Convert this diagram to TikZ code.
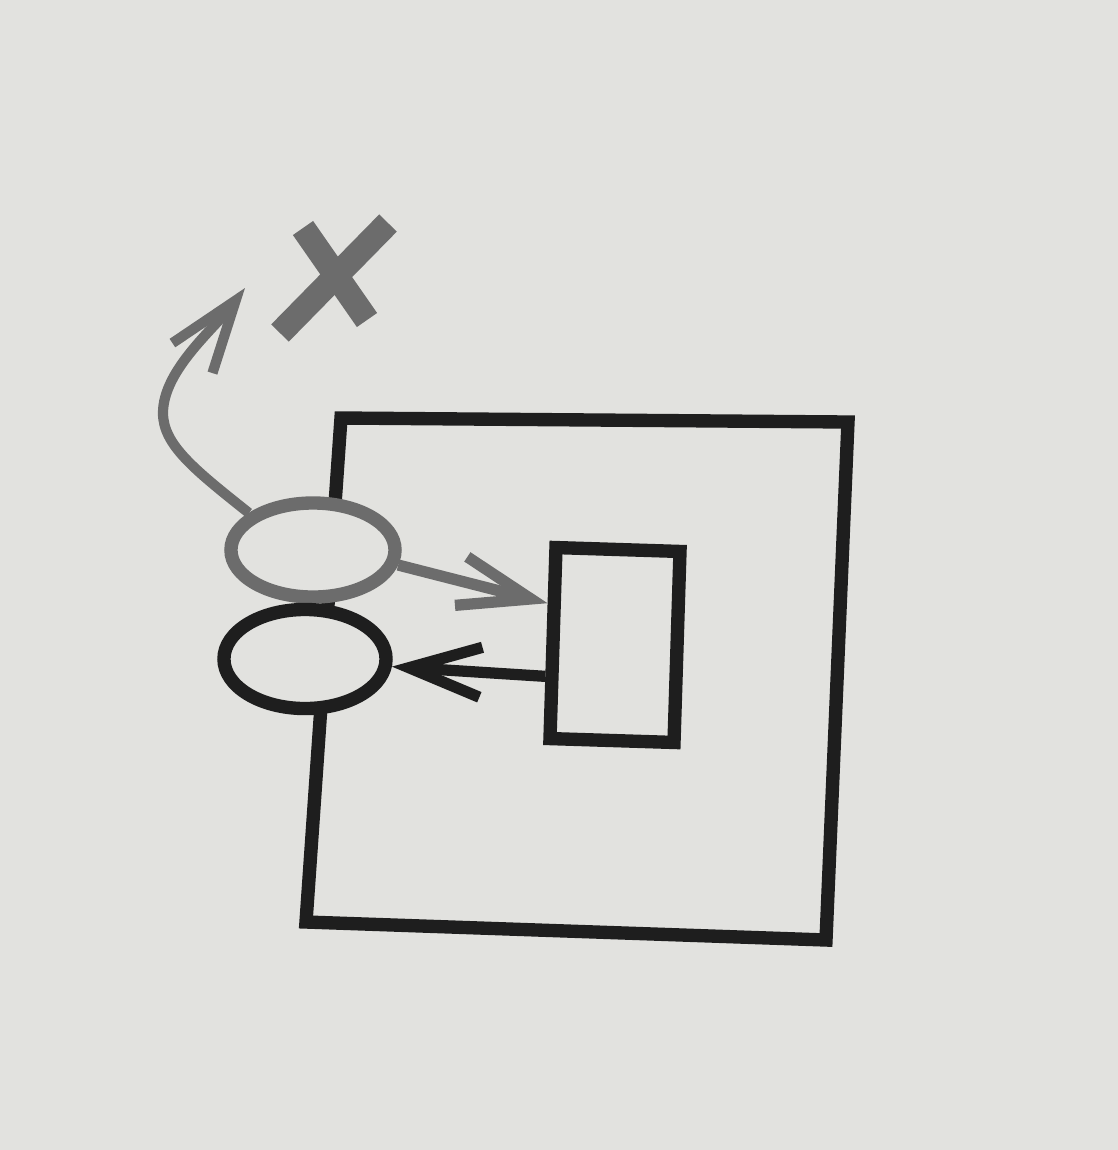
\documentclass[tikz,border=0pt]{standalone}
\usepackage{tikz}
\usetikzlibrary{arrows.meta,shapes.geometric}

\definecolor{paper}{RGB}{226,226,223}
\definecolor{ink}{RGB}{30,30,30}
\definecolor{screen}{RGB}{108,108,108}

\begin{document}
\begin{tikzpicture}[x=0.01cm,y=-0.01cm,>={Straight Barb[length=0.72cm,width=0.5cm]},
  frame/.style={draw=ink,line width=3.8pt,line join=miter},
  oval/.style={ellipse,fill=paper,line width=3.8pt,minimum width=1.64cm,minimum height=0.94cm,inner sep=0pt},
  flow/.style={->,line width=3.2pt}]
  % Page
  \fill[paper] (0,0) rectangle (1118,1150);
  \useasboundingbox (0,0) rectangle (1118,1150);

  % Corners of the outer box (photographed a little askew)
  \coordinate (tl) at (341,418);
  \coordinate (tr) at (848,422);
  \coordinate (br) at (826,940);
  \coordinate (bl) at (306,922);

  % Draw outer box
  \draw[frame] (tl) -- (tr) -- (br) -- (bl) -- cycle;

  % Ovals on the left wall
  \node[oval,draw=screen] (upper) at (313,550) {};
  \node[oval,draw=ink,minimum width=1.62cm,minimum height=0.99cm] (lower) at (305,659) {};

  % Inner box
  \node[draw=ink,line width=3.8pt,minimum width=1.24cm,minimum height=1.91cm,
        rotate=-1.8,inner sep=0pt] (inner) at (615,645) {};

  % Arrows between ovals and inner box
  \draw[flow,draw=screen] (upper.-10) -- (inner.150);
  \draw[flow,draw=ink] (inner.206) -- (lower.-5);

  % Rejected way out
  \coordinate (reject) at (335,276);
  \coordinate (escape) at (245,288);
  \draw[flow,draw=screen,line width=2.9pt] (upper.150)
    .. controls (195,470) and (163,445) .. (163,413)
    .. controls (163,370) and (215,328) .. (escape);

  % Cross
  \draw[screen,line width=7pt,shift={(reject)}] (-32,-48) -- (32,44);
  \draw[screen,line width=7pt,shift={(reject)}] (53,-53) -- (-55,57);

\end{tikzpicture}
\end{document}
